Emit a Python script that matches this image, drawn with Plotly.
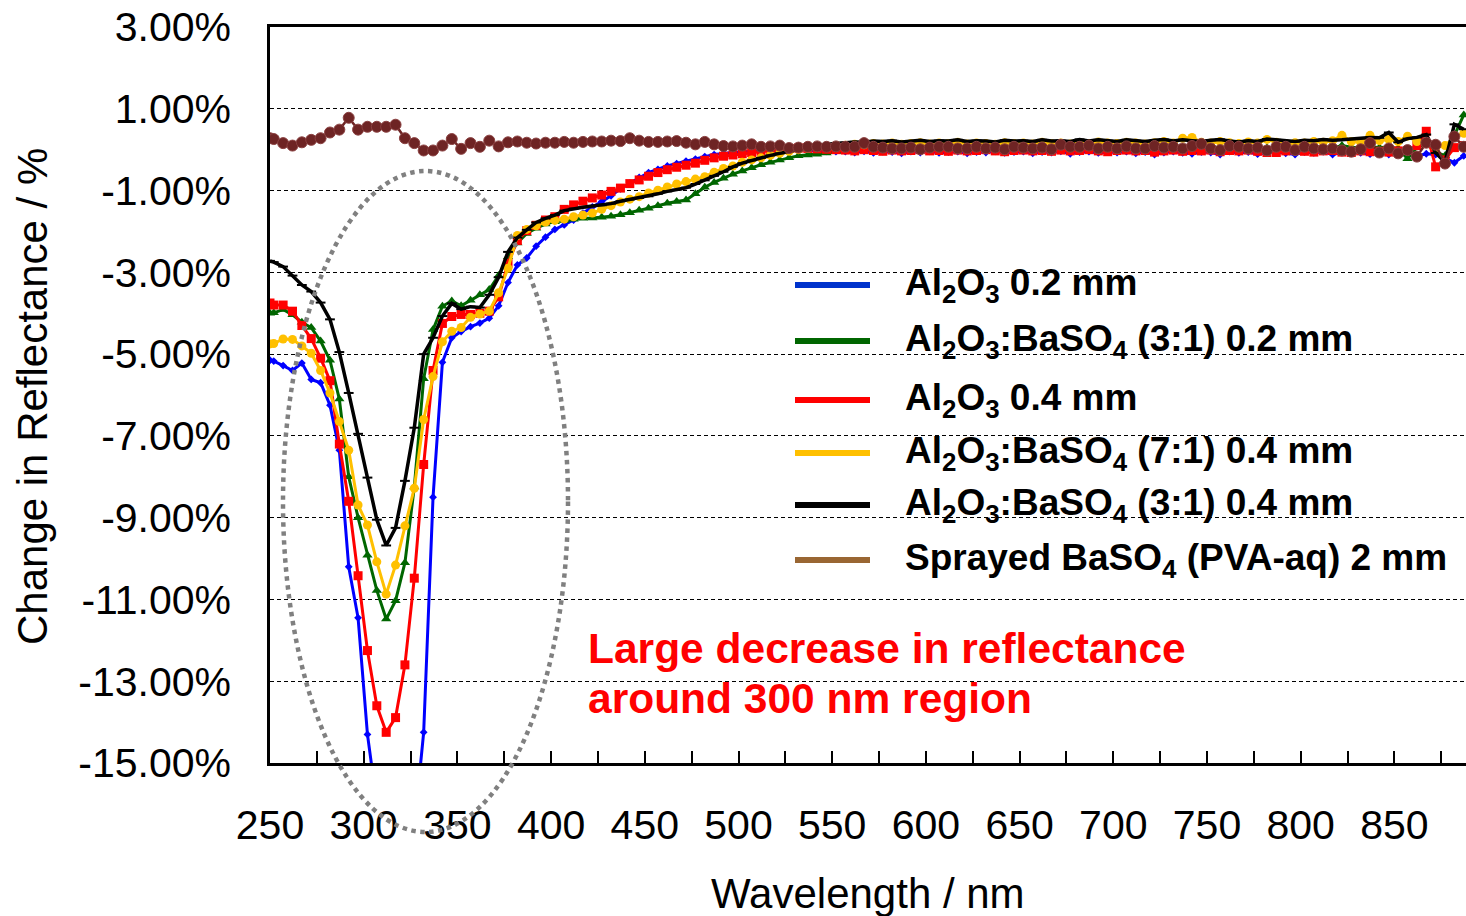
import plotly.graph_objects as go

# ---------------- data ----------------
WAVELENGTH = [250, 252, 257, 262, 267, 272, 277, 282, 287, 292, 297,
              302, 307, 312, 317, 322, 327, 332, 337, 342, 347,
              352, 357, 362, 367, 372, 377, 382, 387, 392, 397,
              402, 407, 412, 417, 422, 427, 432, 437, 442, 447,
              452, 457, 462, 467, 472, 477, 482, 487, 492, 497,
              502, 507, 512, 517, 522, 527, 532, 537, 542, 547,
              552, 557, 562, 567, 572, 577, 582, 587, 592, 597,
              602, 607, 612, 617, 622, 627, 632, 637, 642, 647,
              652, 657, 662, 667, 672, 677, 682, 687, 692, 697,
              702, 707, 712, 717, 722, 727, 732, 737, 742, 747,
              752, 757, 762, 767, 772, 777, 782, 787, 792, 797,
              802, 807, 812, 817, 822, 827, 832, 837, 842, 847,
              852, 857, 862, 867, 872, 877, 882, 887]

AL2O3_02 = [-5.15, -5.17, -5.28, -5.40, -5.22, -5.62, -5.70, -6.25, -7.35, -10.2, -11.45,
            -14.3, -16.0, -17.0, -17.2, -16.9, -16.6, -14.25, -8.5, -5.2, -4.6,
            -4.45, -4.33, -4.24, -4.12, -3.82, -3.25, -2.82, -2.65, -2.36, -2.14,
            -1.95, -1.84, -1.72, -1.55, -1.40, -1.27, -1.13, -0.96, -0.82, -0.68,
            -0.56, -0.48, -0.40, -0.34, -0.28, -0.23, -0.17, -0.12, -0.09, -0.07,
            -0.05, -0.04, -0.03, -0.02, -0.01, -0.01, 0.0, -0.02, -0.03, -0.04,
            -0.05, -0.05, -0.07, -0.04, -0.08, -0.05, -0.06, -0.09, -0.05, -0.07,
            -0.04, -0.08, -0.06, -0.05, -0.09, -0.06, -0.07, -0.04, -0.08, -0.06,
            -0.05, -0.09, -0.06, -0.07, -0.04, -0.10, -0.06, -0.05, -0.08, -0.06,
            -0.07, -0.05, -0.09, -0.06, -0.12, -0.07, -0.05, -0.08, -0.10, -0.06,
            -0.07, -0.12, -0.05, -0.08, -0.06, -0.11, -0.07, -0.05, -0.09, -0.12,
            -0.06, -0.08, -0.05, -0.12, -0.07, -0.06, -0.08, -0.11, -0.06, -0.12,
            -0.07, -0.13, -0.16, -0.10, -0.12, -0.20, -0.32, -0.15]

AL2O3_BASO4_31_02 = [-4.00, -3.99, -3.91, -4.04, -4.22, -4.35, -4.68, -5.15, -6.10, -8.00, -9.00,
                     -9.92, -10.78, -11.48, -11.03, -10.10, -8.25, -5.60, -4.40, -3.83, -3.70,
                     -3.82, -3.68, -3.55, -3.42, -3.08, -2.62, -2.28, -2.05, -1.92, -1.82,
                     -1.76, -1.73, -1.70, -1.68, -1.67, -1.65, -1.63, -1.59, -1.54, -1.48,
                     -1.43, -1.37, -1.31, -1.27, -1.23, -1.08, -0.92, -0.80, -0.70, -0.60,
                     -0.52, -0.44, -0.37, -0.31, -0.25, -0.20, -0.15, -0.13, -0.11, -0.08,
                     -0.05, -0.03, 0.00, 0.02, 0.04, 0.03, 0.05, 0.04, 0.06, 0.05,
                     0.04, 0.06, 0.05, 0.03, 0.06, 0.05, 0.04, 0.07, 0.05, 0.04,
                     0.06, 0.05, 0.03, 0.06, 0.05, 0.04, 0.07, 0.05, 0.04, 0.06,
                     0.05, 0.03, 0.06, 0.05, 0.04, 0.07, 0.05, 0.04, 0.06, 0.05,
                     0.03, 0.06, 0.05, 0.04, 0.07, 0.05, 0.04, 0.06, 0.05, 0.03,
                     0.06, 0.05, 0.07, 0.04, 0.10, 0.06, 0.04, 0.08, 0.05, 0.06,
                     0.03, -0.22, 0.05, 0.15, -0.05, -0.15, 0.35, 0.85]

AL2O3_04 = [-3.75, -3.80, -3.80, -3.95, -4.30, -4.62, -5.10, -5.65, -7.20, -8.60, -10.42,
            -12.25, -13.60, -14.25, -13.89, -12.60, -10.48, -7.70, -5.40, -4.25, -4.08,
            -4.03, -4.03, -4.00, -3.95, -3.60, -2.78, -2.22, -1.98, -1.85, -1.72,
            -1.64, -1.46, -1.35, -1.26, -1.18, -1.11, -1.02, -0.94, -0.83, -0.74,
            -0.65, -0.56, -0.49, -0.43, -0.38, -0.33, -0.26, -0.20, -0.16, -0.13,
            -0.10, -0.07, -0.04, -0.01, 0.01, 0.03, 0.04, 0.03, 0.02, 0.01,
            0.00, -0.01, -0.03, 0.00, -0.02, -0.04, -0.01, -0.03, -0.02, 0.00,
            -0.03, -0.02, -0.04, -0.01, -0.03, -0.02, 0.00, -0.03, -0.05, -0.02,
            -0.01, -0.03, -0.02, -0.04, -0.01, -0.03, -0.02, 0.00, -0.03, -0.05,
            -0.02, -0.01, -0.03, -0.02, -0.06, -0.03, -0.01, -0.04, -0.02, -0.03,
            -0.01, -0.05, -0.02, -0.03, -0.01, -0.04, -0.07, -0.07, -0.03, -0.02,
            -0.04, -0.06, -0.03, -0.02, -0.06, -0.07, -0.03, -0.05, -0.04, -0.06,
            -0.03, -0.02, 0.10, 0.45, -0.42, -0.25, 0.05, 0.10]

AL2O3_BASO4_71_04 = [-4.75, -4.74, -4.63, -4.64, -4.80, -4.98, -5.40, -5.95, -6.65, -7.35, -8.69,
                     -9.18, -10.08, -10.87, -10.16, -9.20, -8.28, -6.60, -5.55, -4.70, -4.44,
                     -4.35, -4.10, -4.02, -3.95, -3.50, -2.90, -2.10, -1.95, -1.86, -1.77,
                     -1.73, -1.70, -1.64, -1.60, -1.55, -1.46, -1.37, -1.28, -1.21, -1.15,
                     -1.06, -0.99, -0.91, -0.84, -0.78, -0.72, -0.66, -0.55, -0.46, -0.40,
                     -0.31, -0.25, -0.20, -0.14, -0.09, -0.04, 0.00, 0.03, 0.06, 0.08,
                     0.09, 0.11, 0.13, 0.12, 0.15, 0.14, 0.16, 0.13, 0.15, 0.17,
                     0.14, 0.16, 0.15, 0.18, 0.14, 0.16, 0.15, 0.13, 0.17, 0.15,
                     0.16, 0.14, 0.18, 0.15, 0.16, 0.14, 0.17, 0.15, 0.19, 0.16,
                     0.15, 0.18, 0.16, 0.14, 0.17, 0.20, 0.16, 0.28, 0.30, 0.18,
                     0.16, 0.20, 0.17, 0.15, 0.19, 0.16, 0.25, 0.18, 0.15, 0.17,
                     0.16, 0.20, 0.18, 0.22, 0.35, 0.20, 0.18, 0.35, 0.22, 0.25,
                     0.20, 0.33, 0.20, 0.15, 0.05, 0.10, 0.30, 0.40]

AL2O3_BASO4_31_04 = [-2.72, -2.75, -2.86, -3.08, -3.31, -3.47, -3.74, -4.15, -4.95, -5.95, -6.95,
                     -8.02, -9.05, -9.68, -9.25, -8.10, -6.80, -5.00, -4.60, -4.07, -3.76,
                     -3.90, -3.84, -3.86, -3.55, -3.12, -2.50, -2.15, -1.96, -1.78, -1.68,
                     -1.60, -1.49, -1.44, -1.41, -1.38, -1.36, -1.32, -1.26, -1.22, -1.18,
                     -1.14, -1.08, -1.02, -0.98, -0.93, -0.84, -0.75, -0.64, -0.54, -0.42,
                     -0.33, -0.26, -0.20, -0.14, -0.09, -0.04, 0.02, 0.07, 0.11, 0.13,
                     0.15, 0.17, 0.19, 0.18, 0.21, 0.20, 0.22, 0.19, 0.21, 0.23,
                     0.20, 0.22, 0.21, 0.24, 0.20, 0.22, 0.21, 0.19, 0.23, 0.21,
                     0.22, 0.20, 0.24, 0.21, 0.22, 0.20, 0.25, 0.21, 0.24, 0.22,
                     0.20, 0.24, 0.22, 0.20, 0.23, 0.25, 0.21, 0.24, 0.22, 0.20,
                     0.23, 0.25, 0.21, 0.19, 0.22, 0.20, 0.26, 0.24, 0.21, 0.20,
                     0.23, 0.22, 0.25, 0.23, 0.24, 0.26, 0.28, 0.30, 0.29, 0.42,
                     0.18, 0.27, 0.30, 0.37, -0.08, -0.30, 0.62, 0.50]

SPRAYED_BASO4 = [0.28, 0.26, 0.16, 0.10, 0.18, 0.24, 0.28, 0.42, 0.49, 0.78, 0.49,
                 0.56, 0.56, 0.56, 0.61, 0.28, 0.16, -0.02, -0.02, 0.10, 0.26,
                 0.02, 0.16, 0.07, 0.22, 0.08, 0.18, 0.20, 0.17, 0.15, 0.17,
                 0.17, 0.19, 0.17, 0.19, 0.20, 0.20, 0.22, 0.21, 0.28, 0.22,
                 0.19, 0.19, 0.20, 0.21, 0.17, 0.13, 0.19, 0.13, 0.09, 0.08,
                 0.10, 0.13, 0.07, 0.08, 0.10, 0.04, 0.05, 0.07, 0.08, 0.07,
                 0.08, 0.07, 0.07, 0.16, 0.07, 0.05, 0.03, 0.03, 0.05, 0.01,
                 0.05, 0.07, 0.07, 0.03, 0.03, 0.07, 0.03, 0.05, 0.01, 0.07,
                 0.05, 0.03, 0.05, 0.01, 0.12, 0.07, 0.07, 0.10, 0.03, 0.07,
                 0.03, 0.08, 0.03, 0.03, 0.09, 0.05, 0.07, 0.03, 0.09, 0.14,
                 0.03, -0.01, 0.09, 0.07, 0.03, 0.05, -0.02, 0.07, 0.07, -0.01,
                 0.07, 0.03, 0.01, 0.03, -0.02, -0.05, 0.01, 0.16, -0.07, 0.03,
                 -0.09, -0.01, -0.17, 0.17, 0.12, -0.34, 0.32, 0.07]

SERIES_NAMES = ["Al<sub>2</sub>O<sub>3</sub> 0.2 mm",
                "Al<sub>2</sub>O<sub>3</sub>:BaSO<sub>4</sub> (3:1) 0.2 mm",
                "Al<sub>2</sub>O<sub>3</sub> 0.4 mm",
                "Al<sub>2</sub>O<sub>3</sub>:BaSO<sub>4</sub> (7:1) 0.4 mm",
                "Al<sub>2</sub>O<sub>3</sub>:BaSO<sub>4</sub> (3:1) 0.4 mm",
                "Sprayed BaSO<sub>4</sub> (PVA-aq) 2 mm"]

X_TICKS = [250, 300, 350, 400, 450, 500, 550, 600, 650, 700, 750, 800, 850]
X_TICK_TEXT = ["250", "300", "350", "400", "450", "500", "550",
               "600", "650", "700", "750", "800", "850"]
X_MINOR_TICKS = [275, 325, 375, 425, 475, 525, 575, 625, 675, 725, 775, 825, 875]
Y_TICKS = [3, 1, -1, -3, -5, -7, -9, -11, -13, -15]
Y_TICK_TEXT = ["3.00%", "1.00%", "-1.00%", "-3.00%", "-5.00%", "-7.00%",
               "-9.00%", "-11.00%", "-13.00%", "-15.00%"]

ANNOT_LINES = ["Large decrease in reflectance", "around 300 nm region"]

SERIES = [AL2O3_02, AL2O3_BASO4_31_02, AL2O3_04, AL2O3_BASO4_71_04,
          AL2O3_BASO4_31_04, SPRAYED_BASO4]
for s in SERIES:
    assert len(s) == len(WAVELENGTH), len(s)

# ---------------- styles ----------------
FONT = "Liberation Sans, Arial, sans-serif"
STYLES = [
    dict(line=dict(color="#0000FF", width=3), marker=dict(symbol="diamond", size=6, color="#0000FF")),
    dict(line=dict(color="#006600", width=3), marker=dict(symbol="triangle-up", size=9, color="#006600")),
    dict(line=dict(color="#FF0000", width=3), marker=dict(symbol="square", size=9, color="#FF0000")),
    dict(line=dict(color="#FFC000", width=3), marker=dict(symbol="circle", size=9, color="#FFC000")),
    dict(line=dict(color="#000000", width=3.5), marker=dict(symbol="line-ew-open", size=7,
                                                            line=dict(color="#000000", width=2))),
    dict(line=dict(color="#6E2424", width=2.5), marker=dict(symbol="circle", size=11, color="#6E2424",
                                                            line=dict(color="#8A4040", width=1))),
]
LEGEND_COLORS = ["#0033CC", "#006600", "#FF0000", "#FFC000", "#000000", "#996633"]

fig = go.Figure()
for name, ys, st in zip(SERIES_NAMES, SERIES, STYLES):
    fig.add_trace(go.Scatter(x=WAVELENGTH, y=ys, mode="lines+markers", name=name,
                             line=st["line"], marker=st["marker"], showlegend=False))

# ---------------- layout ----------------
PLOT_L, PLOT_R, PLOT_T, PLOT_B = 270, 1466, 27, 763
W, H = 1466, 916


def px_x(p):
    return (p - PLOT_L) / (PLOT_R - PLOT_L)


def px_y(p):
    return (PLOT_B - p) / (PLOT_B - PLOT_T)


fig.update_layout(
    width=W, height=H,
    margin=dict(l=PLOT_L, r=W - PLOT_R, t=PLOT_T, b=H - PLOT_B, pad=0),
    plot_bgcolor="white", paper_bgcolor="white",
    showlegend=False,
    font=dict(family=FONT, color="black"),
)
fig.update_xaxes(
    range=[250, 888.2], tickmode="array", tickvals=X_TICKS, ticktext=X_TICK_TEXT,
    ticks="inside", ticklen=12, tickwidth=1.5, tickcolor="black",
    minor=dict(tickmode="array", tickvals=X_MINOR_TICKS, ticks="inside", ticklen=12,
               tickwidth=1.5, tickcolor="black", showgrid=False),
    showline=True, linewidth=2.5, linecolor="black", mirror=True,
    showgrid=False, zeroline=False,
    tickfont=dict(family=FONT, size=41, color="black"),
    ticklabelstandoff=24,
)
fig.update_yaxes(
    range=[-15, 3], tickmode="array", tickvals=Y_TICKS, ticktext=Y_TICK_TEXT,
    ticks="", showline=True, linewidth=2.5, linecolor="black",
    showgrid=True, gridcolor="black", gridwidth=1, griddash="4px,3px",
    zeroline=False,
    tickfont=dict(family=FONT, size=41, color="black"),
    ticklabelstandoff=28,
)

annotations = [
    dict(text="Wavelength / nm", x=0.5, y=px_y(893), xref="paper", yref="paper",
         showarrow=False, xanchor="center", yanchor="middle",
         font=dict(family=FONT, size=42, color="black")),
    dict(text="Change in Reflectance / %", x=px_x(32), y=px_y(397), xref="paper", yref="paper",
         showarrow=False, xanchor="center", yanchor="middle", textangle=-90,
         font=dict(family=FONT, size=42, color="black")),
]
for txt, cy in zip(ANNOT_LINES, [648, 698]):
    annotations.append(dict(text="<b>" + txt + "</b>", x=px_x(586), y=px_y(cy),
                            xref="paper", yref="paper", showarrow=False,
                            xanchor="left", yanchor="middle",
                            font=dict(family=FONT, size=42.5, color="#FF0000")))

shapes = []
LEG_Y = [285, 341, 400, 453, 505, 560]
for name, col, ly in zip(SERIES_NAMES, LEGEND_COLORS, LEG_Y):
    shapes.append(dict(type="line", xref="paper", yref="paper",
                       x0=px_x(795), x1=px_x(870), y0=px_y(ly), y1=px_y(ly),
                       line=dict(color=col, width=6)))
    annotations.append(dict(text="<b>" + name + "</b>", x=px_x(903), y=px_y(ly),
                            xref="paper", yref="paper", showarrow=False,
                            xanchor="left", yanchor="middle",
                            font=dict(family=FONT, size=37, color="black")))

# dotted ellipse highlighting the dip
shapes.append(dict(type="circle", xref="paper", yref="paper", layer="above",
                   x0=px_x(283), x1=px_x(568), y0=px_y(832), y1=px_y(171),
                   line=dict(color="#808080", width=4.5, dash="dot")))

fig.update_layout(annotations=annotations, shapes=shapes)

fig.write_html("out.html", config=dict(displayModeBar=False),
               post_script="document.body.style.margin='0';document.body.style.overflow='hidden';")
